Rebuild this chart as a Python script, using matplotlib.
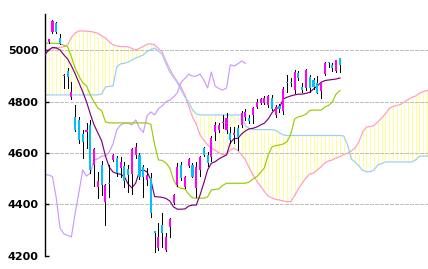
import numpy as np
import matplotlib
matplotlib.use('Agg')
import matplotlib.pyplot as plt

# ローソク足 (index 0 .. 77)
opens = [5033, 5069, 5105, 5047, 4900, 4919, 4817, 4741, 4728, 4672,
         4683, 4709, 4553, 4469, 4553, 4410, 4484, 4573, 4579, 4540,
         4549, 4536, 4520, 4592, 4592, 4547, 4495, 4501, 4295, 4229,
         4320, 4222, 4313, 4404, 4475, 4553, 4469, 4549, 4553, 4463,
         4534, 4618, 4592, 4586, 4683, 4690, 4716, 4690, 4679, 4670,
         4696, 4709, 4741, 4735, 4748, 4780, 4793, 4795, 4787, 4815,
         4748, 4783, 4765, 4878, 4878, 4845, 4910, 4856, 4852, 4897,
         4884, 4871, 4843, 4908, 4953, 4943, 4921, 4969]
highs = [5045, 5118, 5108, 5062, 4906, 4930, 4878, 4787, 4740, 4690,
         4715, 4728, 4620, 4527, 4570, 4480, 4553, 4596, 4590, 4586,
         4566, 4553, 4620, 4640, 4600, 4555, 4540, 4521, 4297, 4326,
         4366, 4290, 4345, 4440, 4560, 4565, 4510, 4580, 4560, 4566,
         4590, 4625, 4605, 4665, 4722, 4715, 4748, 4755, 4702, 4700,
         4709, 4765, 4770, 4748, 4780, 4810, 4815, 4820, 4827, 4825,
         4785, 4790, 4855, 4904, 4890, 4923, 4920, 4874, 4925, 4904,
         4890, 4900, 4873, 4955, 4956, 4949, 4963, 4970]
lows = [5030, 5066, 5066, 5023, 4853, 4852, 4812, 4686, 4640, 4580,
        4621, 4521, 4473, 4424, 4436, 4320, 4430, 4570, 4510, 4508,
        4469, 4449, 4440, 4579, 4500, 4430, 4475, 4352, 4216, 4222,
        4235, 4218, 4274, 4400, 4470, 4495, 4465, 4545, 4505, 4430,
        4510, 4588, 4550, 4570, 4651, 4680, 4696, 4677, 4638, 4640,
        4612, 4700, 4728, 4715, 4716, 4775, 4790, 4790, 4780, 4768,
        4740, 4760, 4752, 4839, 4862, 4833, 4884, 4839, 4845, 4839,
        4850, 4832, 4813, 4905, 4936, 4921, 4917, 4917]
closes = [5043, 5114, 5069, 5023, 4904, 4894, 4839, 4690, 4650, 4641,
          4690, 4534, 4616, 4491, 4475, 4475, 4478, 4592, 4521, 4566,
          4490, 4514, 4616, 4625, 4508, 4508, 4514, 4365, 4290, 4274,
          4287, 4274, 4342, 4436, 4545, 4501, 4508, 4575, 4508, 4547,
          4586, 4592, 4562, 4657, 4709, 4709, 4722, 4735, 4651, 4679,
          4663, 4755, 4761, 4726, 4774, 4800, 4809, 4813, 4822, 4770,
          4778, 4770, 4850, 4872, 4871, 4917, 4891, 4845, 4923, 4852,
          4856, 4835, 4871, 4952, 4949, 4932, 4962, 4943]

# 一目均衡表のライン (最初の値は index -1)
conv_line = [4982, 5001, 5011, 5009, 5001, 4982, 4966, 4939, 4908, 4873,
             4838, 4799, 4752, 4709, 4678, 4647, 4588, 4545, 4526, 4520,
             4517, 4508, 4479, 4464, 4483, 4530, 4534, 4526, 4495, 4430,
             4429, 4427, 4423, 4413, 4390, 4381, 4381, 4382, 4393, 4397,
             4397, 4436, 4483, 4534, 4560, 4566, 4577, 4585, 4592, 4639,
             4656, 4657, 4674, 4686, 4694, 4696, 4701, 4709, 4716, 4732,
             4756, 4773, 4777, 4810, 4817, 4822, 4826, 4829, 4829, 4832,
             4836, 4849, 4861, 4875, 4882, 4884, 4886, 4888, 4892]
base_line = [5027, 5027, 5027, 5027, 5025, 5019, 5013, 4974, 4930, 4899,
             4873, 4861, 4826, 4799, 4775, 4764, 4721, 4717, 4717, 4717,
             4717, 4717, 4717, 4717, 4717, 4717, 4717, 4717, 4711, 4632,
             4573, 4571, 4561, 4542, 4495, 4469, 4462, 4460, 4440, 4425,
             4424, 4424, 4424, 4429, 4456, 4458, 4460, 4474, 4482, 4482,
             4482, 4482, 4482, 4482, 4487, 4499, 4508, 4524, 4542, 4592,
             4623, 4629, 4631, 4635, 4644, 4674, 4732, 4741, 4744, 4751,
             4765, 4767, 4767, 4767, 4779, 4785, 4799, 4830, 4843]
span_a = [5001, 5003, 5006, 5009, 5011, 5013, 5021, 5050, 5067, 5075,
          5075, 5074, 5073, 5070, 5066, 5056, 5048, 5032, 5021, 5017,
          5014, 5014, 5013, 5007, 5001, 5007, 5015, 5023, 5025, 5021,
          5007, 4993, 4958, 4927, 4901, 4878, 4857, 4826, 4783, 4740,
          4713, 4670, 4649, 4631, 4618, 4610, 4600, 4594, 4596, 4612,
          4618, 4610, 4592, 4573, 4542, 4514, 4491, 4471, 4450, 4432,
          4425, 4419, 4417, 4413, 4410, 4411, 4434, 4460, 4483, 4503,
          4518, 4522, 4534, 4546, 4561, 4569, 4573, 4581, 4586, 4594,
          4599, 4608, 4619, 4643, 4682, 4701, 4703, 4707, 4721, 4736,
          4752, 4773, 4781, 4785, 4789, 4799, 4808, 4816, 4822, 4832,
          4839, 4843, 4846]
span_b = [4826, 4826, 4826, 4826, 4826, 4826, 4826, 4826, 4826, 4826,
          4826, 4826, 4826, 4826, 4826, 4830, 4857, 4859, 4861, 4935,
          4947, 4949, 4954, 4962, 4970, 4975, 4982, 4995, 5003, 5008,
          4997, 4984, 4947, 4915, 4894, 4873, 4845, 4818, 4799, 4768,
          4752, 4748, 4748, 4748, 4748, 4748, 4748, 4748, 4748, 4748,
          4748, 4748, 4748, 4705, 4696, 4691, 4691, 4691, 4691, 4691,
          4691, 4688, 4678, 4670, 4668, 4668, 4668, 4668, 4668, 4668,
          4668, 4668, 4668, 4668, 4668, 4668, 4668, 4668, 4668, 4666,
          4631, 4576, 4565, 4549, 4532, 4527, 4527, 4534, 4553, 4559,
          4565, 4565, 4565, 4565, 4565, 4565, 4565, 4565, 4573, 4587,
          4588, 4588, 4588]
lag_span = [4516, 4514, 4508, 4424, 4308, 4285, 4279, 4273, 4366, 4448,
            4534, 4510, 4522, 4573, 4577, 4588, 4588, 4604, 4635, 4690,
            4709, 4716, 4716, 4709, 4729, 4697, 4680, 4744, 4760, 4748,
            4773, 4783, 4799, 4806, 4818, 4834, 4876, 4890, 4907, 4899,
            4899, 4907, 4884, 4853, 4915, 4861, 4851, 4845, 4853, 4943,
            4939, 4947, 4958, 4949]

y_ticks = [4200, 4400, 4600, 4800, 5000]

COL_UP = '#FF00FF'
COL_DOWN = '#00BFFF'
LW = 0.72  # 1px

fig = plt.figure(figsize=(4.28, 2.69), dpi=100)
ax = fig.add_axes([45.3 / 428, (269 - 255.7) / 269, 1 - 45.3 / 428, (255.7 - 14) / 269])

# 雲 (縦線で塗る)
x_span = np.arange(len(span_a)) - 1
ax.vlines(x_span, span_a, span_b, colors='#FFFF99', lw=LW, zorder=1, antialiased=False)

for t in y_ticks:
    ax.axhline(t, color='#C0C0C0', lw=LW, linestyle=(0, (3, 2)), zorder=1.5, antialiased=False)

ax.plot(x_span, span_a, color='#FF99CC', lw=0.85, zorder=2)
ax.plot(x_span, span_b, color='#99CCFF', lw=0.85, zorder=2)
ax.plot(np.arange(len(lag_span)) - 1, lag_span, color='#CC99FF', lw=0.85, zorder=2.2)
ax.plot(np.arange(len(base_line)) - 1, base_line, color='#99CC00', lw=0.85, zorder=2.4)
ax.plot(np.arange(len(conv_line)) - 1, conv_line, color='#800080', lw=0.85, zorder=2.6)

# ローソク足
o = np.array(opens)
c = np.array(closes)
idx = np.arange(len(o))
ax.vlines(idx, lows, highs, colors='black', lw=LW, zorder=3, antialiased=False)
body_col = [COL_UP if cc >= oo else COL_DOWN for oo, cc in zip(o, c)]
body_h = np.maximum(np.abs(c - o), 4)
ax.bar(idx, body_h, bottom=np.minimum(o, c), width=0.55, color=body_col,
       linewidth=0, zorder=3.1)

ax.set_xlim(-0.9, 100.26)
ax.set_ylim(4200, 5141)
ax.set_xticks([])
ax.set_yticks(y_ticks)
ax.set_yticklabels([str(t) for t in y_ticks], fontsize=8, fontweight='bold')
ax.tick_params(axis='y', direction='in', length=3, width=1, pad=5)
for s in ['top', 'right', 'bottom']:
    ax.spines[s].set_visible(False)
ax.spines['left'].set_linewidth(1)

fig.savefig('out.png', dpi=100)
